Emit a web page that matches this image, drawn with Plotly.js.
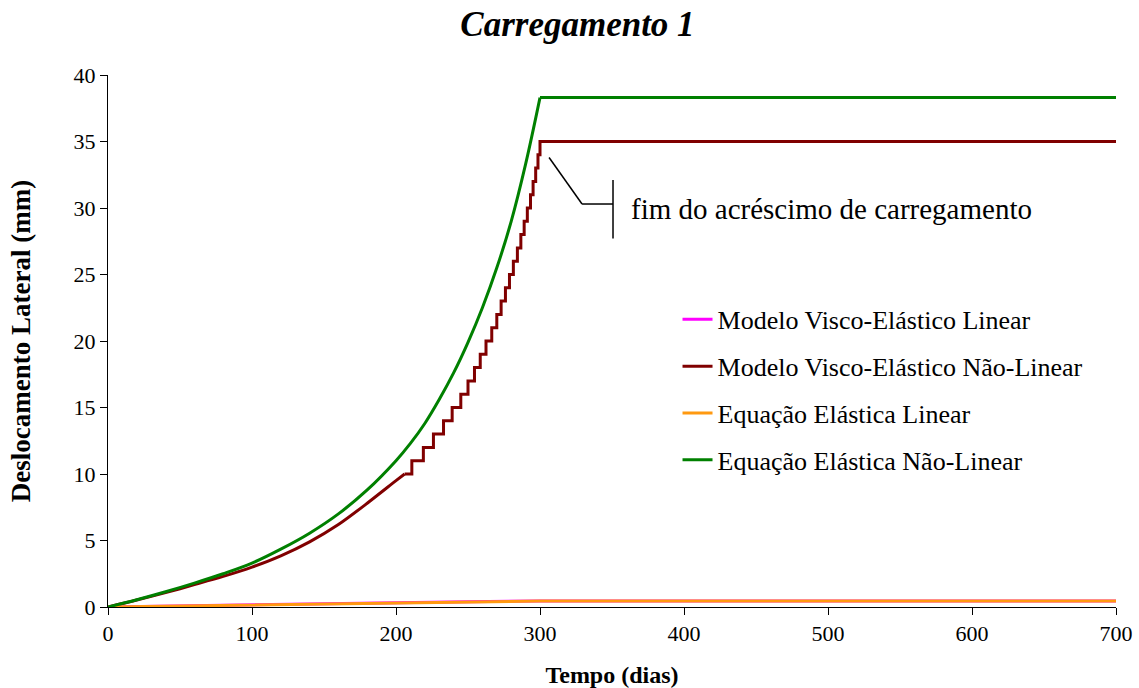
<!DOCTYPE html>
<html>
<head>
<meta charset="utf-8">
<script src="https://cdn.plot.ly/plotly-3.0.1.min.js"></script>
<style>html,body{margin:0;padding:0;background:#fff;}#chart{width:1139px;height:688px;}</style>
</head>
<body>
<div id="chart"></div>
<script>
// Series names
const seriesNames = [
  "Modelo Visco-Elástico Linear",
  "Modelo Visco-Elástico Não-Linear",
  "Equação Elástica Linear",
  "Equação Elástica Não-Linear"
];

// Modelo Visco-Elástico Linear
const viscoLinT = [0, 50, 100, 150, 200, 250, 300, 700];
const viscoLinV = [0, 0.09, 0.17, 0.25, 0.33, 0.40, 0.46, 0.46];

// Modelo Visco-Elástico Não-Linear: smooth part then 1 mm steps, then constant
const viscoNLSmoothT = [0, 20, 40, 60, 80, 100, 120, 140, 160, 180, 200, 206];
const viscoNLSmoothV = [0, 0.52, 1.08, 1.68, 2.3, 3.0, 3.85, 4.9, 6.2, 7.8, 9.5, 10.0];
const viscoNLStepT = [211, 219, 226, 233, 239, 245, 250, 254.5, 258.5, 262.5, 266.5, 270, 273, 276, 278.8, 281.5, 284.3, 286.7, 289, 291.2, 293.4, 295.2, 297, 298.6, 300];
const viscoNLStepV = [11, 12, 13, 14, 15, 16, 17, 18, 19, 20, 21, 22, 23, 24, 25, 26, 27, 28, 29, 30, 31, 32, 33, 34, 35];
const viscoNLEndT = 700;

// Equação Elástica Linear
const elastLinT = [0, 50, 100, 150, 200, 250, 300, 700];
const elastLinV = [0, 0.08, 0.16, 0.24, 0.32, 0.39, 0.45, 0.45];

// Equação Elástica Não-Linear: rising part, then constant
const elastNLT = [0, 20, 40, 60, 80, 100, 120, 140, 160, 180, 200, 210, 220, 230, 240, 250, 260, 270, 280, 290, 300];
const elastNLV = [0, 0.55, 1.15, 1.8, 2.5, 3.3, 4.35, 5.55, 7.0, 8.8, 11.0, 12.3, 13.8, 15.6, 17.6, 19.9, 22.5, 25.5, 29.0, 33.3, 38.3];
const elastNLEndT = 700;

// Build stepped part of the non-linear visco-elastic series
const stepT = [viscoNLSmoothT[viscoNLSmoothT.length - 1]];
const stepV = [viscoNLSmoothV[viscoNLSmoothV.length - 1]];
let prev = stepV[0];
for (let i = 0; i < viscoNLStepT.length; i++) {
  stepT.push(viscoNLStepT[i]); stepV.push(prev);
  stepT.push(viscoNLStepT[i]); stepV.push(viscoNLStepV[i]);
  prev = viscoNLStepV[i];
}
stepT.push(viscoNLEndT); stepV.push(prev);

const elastFlatT = [elastNLT[elastNLT.length - 1], elastNLEndT];
const elastFlatV = [elastNLV[elastNLV.length - 1], elastNLV[elastNLV.length - 1]];

const font = "Liberation Serif";
const cMag = "#FF00FF", cRed = "#800000", cOra = "#FF9910", cGrn = "#008000";

const traces = [
  {x: viscoLinT, y: viscoLinV, name: seriesNames[0], mode: "lines", line: {color: cMag, width: 3}, legendgroup: "a"},
  {x: viscoNLSmoothT, y: viscoNLSmoothV, name: seriesNames[1], mode: "lines", line: {color: cRed, width: 3, shape: "spline", smoothing: 0.8}, legendgroup: "b"},
  {x: stepT, y: stepV, name: seriesNames[1], mode: "lines", line: {color: cRed, width: 3}, legendgroup: "b", showlegend: false},
  {x: elastLinT, y: elastLinV, name: seriesNames[2], mode: "lines", line: {color: cOra, width: 3}, legendgroup: "c"},
  {x: elastNLT, y: elastNLV, name: seriesNames[3], mode: "lines", line: {color: cGrn, width: 3, shape: "spline", smoothing: 1}, legendgroup: "d"},
  {x: elastFlatT, y: elastFlatV, name: seriesNames[3], mode: "lines", line: {color: cGrn, width: 3}, legendgroup: "d", showlegend: false}
];

const layout = {
  width: 1139, height: 688,
  margin: {l: 108, r: 23, t: 75, b: 81},
  paper_bgcolor: "#fff", plot_bgcolor: "#fff",
  font: {family: font, color: "#000", size: 22},
  title: {text: "<b><i>Carregamento 1</i></b>", x: 0.507, xanchor: "center", y: 0.965, yanchor: "middle", font: {family: font, size: 35, color: "#000"}},
  xaxis: {
    range: [0, 700], tickvals: [0, 100, 200, 300, 400, 500, 600, 700],
    showgrid: false, zeroline: false, showline: true, linecolor: "#000", linewidth: 1,
    ticks: "outside", ticklen: 7, tickcolor: "#000",
    tickfont: {family: font, size: 22},
    title: {text: "<b>Tempo (dias)</b>", font: {family: font, size: 24}, standoff: 20}
  },
  yaxis: {
    range: [0, 40], tickvals: [0, 5, 10, 15, 20, 25, 30, 35, 40],
    showgrid: false, zeroline: false, showline: true, linecolor: "#000", linewidth: 1,
    ticks: "outside", ticklen: 7, tickcolor: "#000",
    tickfont: {family: font, size: 22},
    title: {text: "<b>Deslocamento Lateral (mm)</b>", font: {family: font, size: 27}, standoff: 35}
  },
  showlegend: true,
  legend: {
    x: 0.565, y: 0.408, xanchor: "left", yanchor: "middle",
    font: {family: font, size: 26, color: "#000"},
    bgcolor: "rgba(0,0,0,0)", traceorder: "grouped", tracegroupgap: 10,
    itemwidth: 30
  },
  shapes: [
    {type: "line", xref: "x", yref: "y", x0: 306.3, y0: 33.8, x1: 329.2, y1: 30.3, line: {color: "#000", width: 1.5}},
    {type: "line", xref: "x", yref: "y", x0: 329.2, y0: 30.3, x1: 350.7, y1: 30.3, line: {color: "#000", width: 1.5}},
    {type: "line", xref: "x", yref: "y", x0: 350.7, y0: 32.1, x1: 350.7, y1: 27.7, line: {color: "#000", width: 1.5}}
  ],
  annotations: [
    {xref: "x", yref: "y", x: 362, y: 29.9, xanchor: "left", yanchor: "middle", showarrow: false,
     text: "fim do acréscimo de carregamento", font: {family: font, size: 29, color: "#000"}}
  ]
};

Plotly.newPlot("chart", traces, layout, {displayModeBar: false, staticPlot: true});
</script>
</body>
</html>
